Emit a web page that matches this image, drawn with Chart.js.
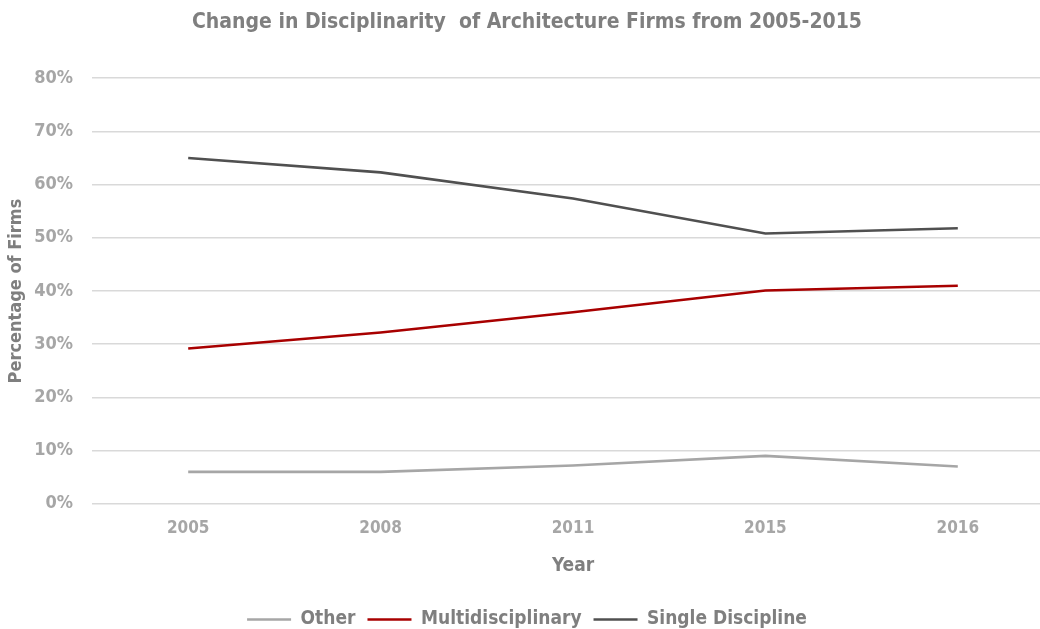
<!DOCTYPE html>
<html lang="en">

<head>
    <meta charset="UTF-8">
    <title>Disciplinarity of Architecture Firms</title>
    <style>
        body { margin: 0; background: #fff; overflow: hidden; }
        .zone { width: 1060px; height: 629px; }
    </style>
</head>

<body>
    <div class="zone">
        <canvas id="myChart" width="1060" height="629"></canvas>
    </div>

    <script src="https://cdn.jsdelivr.net/npm/chart.js"></script>
    <script>
        const years = ['2005', '2008', '2011', '2015', '2016'];
        const other = [6, 6, 7.2, 9, 7];
        const multidisciplinary = [29.2, 32.2, 36, 40.1, 41];
        const singleDiscipline = [65, 62.3, 57.4, 50.8, 51.8];
        const yTicks = [0, 10, 20, 30, 40, 50, 60, 70, 80];

        const font = '"Liberation Sans Narrow", "DejaVu Sans Condensed", "Arial Narrow", sans-serif';

        new Chart(document.getElementById('myChart'), {
            type: 'line',
            data: {
                labels: years,
                datasets: [{
                    label: 'Other',
                    data: other,
                    borderColor: '#a6a6a6',
                    borderWidth: 2.6,
                    pointRadius: 0,
                    fill: false
                }, {
                    label: 'Multidisciplinary',
                    data: multidisciplinary,
                    borderColor: '#a80000',
                    borderWidth: 2.6,
                    pointRadius: 0,
                    fill: false
                }, {
                    label: 'Single Discipline',
                    data: singleDiscipline,
                    borderColor: '#505050',
                    borderWidth: 2.6,
                    pointRadius: 0,
                    fill: false
                }]
            },
            options: {
                responsive: false,
                animation: false,
                layout: { padding: { left: 0, right: 6, top: 0, bottom: -10 } },
                plugins: {
                    title: {
                        display: true,
                        text: 'Change in Disciplinarity  of Architecture Firms from 2005-2015',
                        color: '#7f7f7f',
                        font: { family: font, size: 21, weight: 'bold' },
                        padding: { top: 10, bottom: 43 }
                    },
                    legend: {
                        position: 'bottom',
                        labels: {
                            usePointStyle: true,
                            pointStyle: 'line',
                            pointStyleWidth: 44,
                            color: '#7f7f7f',
                            font: { family: font, size: 19, weight: 'bold' },
                            padding: 12
                        }
                    },
                    tooltip: { enabled: false }
                },
                scales: {
                    x: {
                        offset: true,
                        grid: { display: false, drawTicks: false },
                        border: { display: false },
                        ticks: {
                            color: '#a6a6a6',
                            font: { family: font, size: 17, weight: 'bold' },
                            padding: 15
                        },
                        title: {
                            display: true,
                            text: 'Year',
                            color: '#7f7f7f',
                            font: { family: font, size: 19, weight: 'bold' },
                            padding: { top: 0, bottom: 21 }
                        }
                    },
                    y: {
                        min: 0,
                        max: 80,
                        afterBuildTicks: scale => {
                            scale.ticks = yTicks.map(v => ({ value: v }));
                        },
                        afterFit: scale => {
                            scale.width = 92;
                        },
                        grid: { color: '#d9d9d9', lineWidth: 1.5, drawTicks: false },
                        border: { display: false },
                        ticks: {
                            color: '#a6a6a6',
                            font: { family: font, size: 18, weight: 'bold' },
                            padding: 19,
                            callback: v => v + '%'
                        },
                        title: {
                            display: true,
                            text: 'Percentage of Firms',
                            color: '#7f7f7f',
                            font: { family: font, size: 18, weight: 'bold' },
                            padding: { top: 6, bottom: 0 }
                        }
                    }
                }
            }
        });
    </script>
</body>

</html>
